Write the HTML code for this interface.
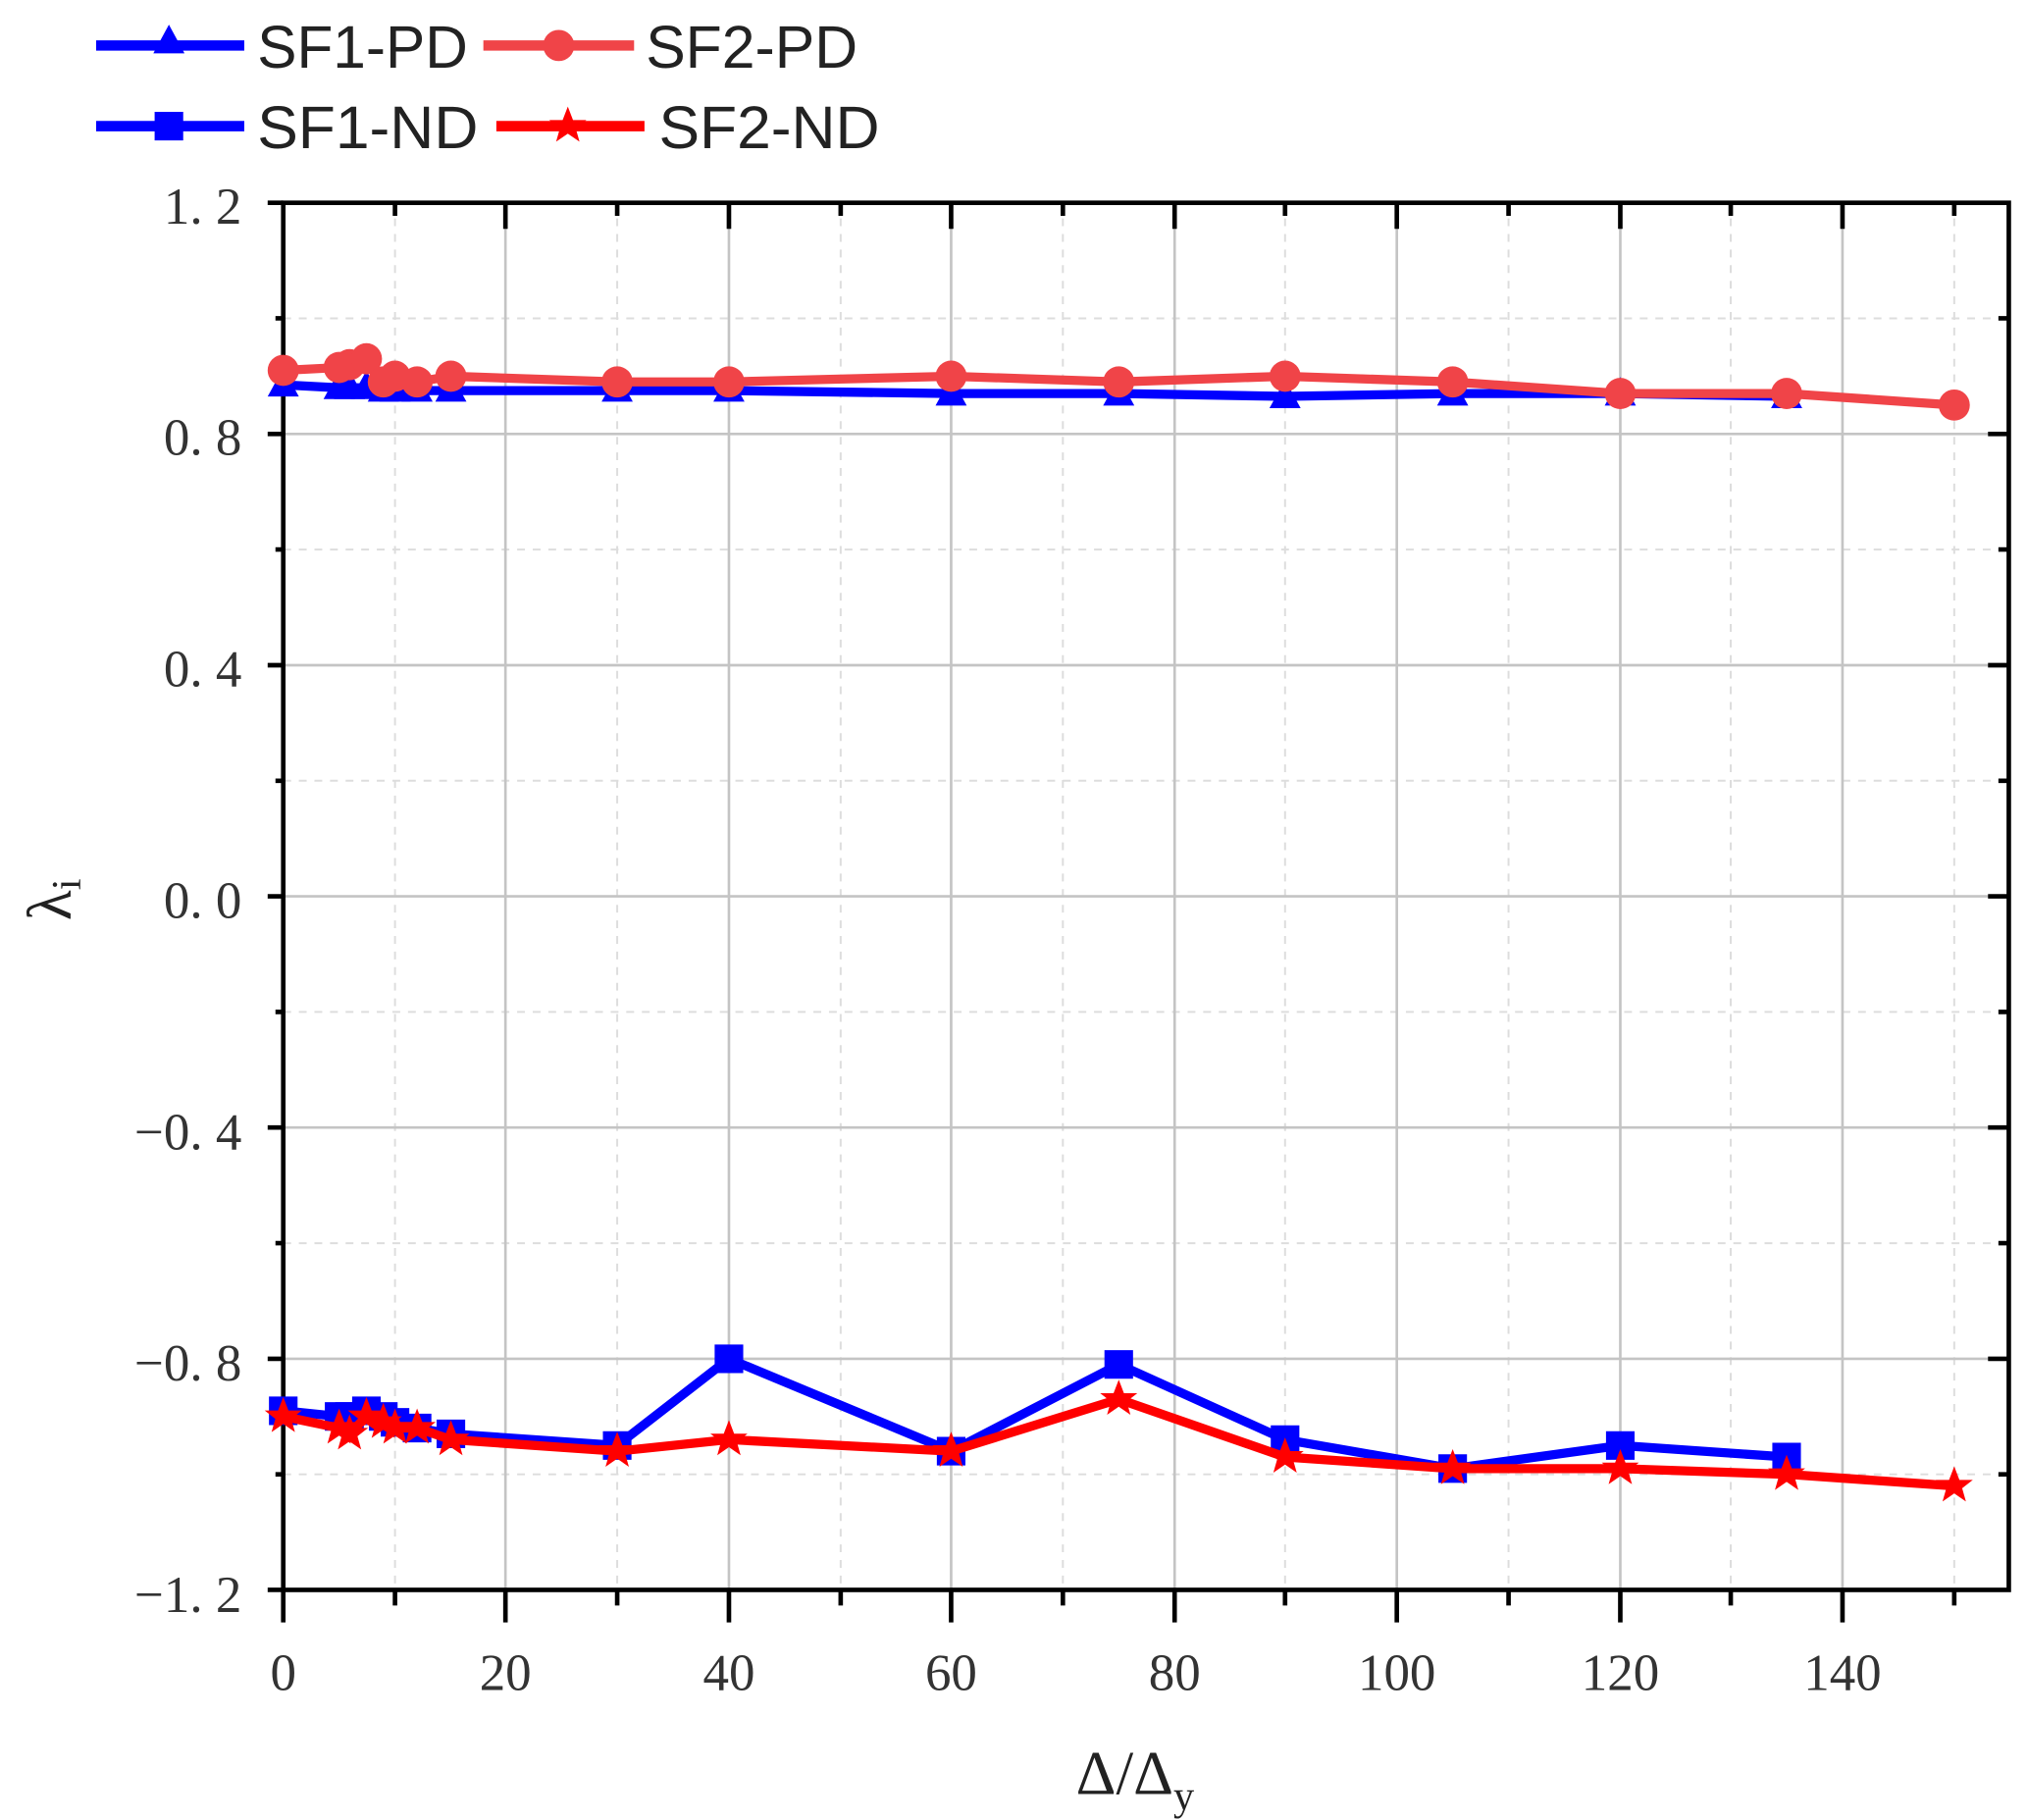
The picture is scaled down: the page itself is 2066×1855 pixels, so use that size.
<!DOCTYPE html>
<html><head><meta charset="utf-8"><style>
html,body{margin:0;padding:0;background:#fff;}
svg{display:block;}
.tl{font-family:"Liberation Serif",serif;font-size:40px;fill:#333;}
.lg{font-family:"Liberation Sans",sans-serif;font-size:46px;fill:#222;}
</style></head><body>
<svg width="2066" height="1855" viewBox="0 0 1560 1400" preserveAspectRatio="none" xmlns="http://www.w3.org/2000/svg">
<defs>
<path id="tri" d="M0,-13 L12,9 L-12,9Z"/>
<path id="sq" d="M-11,-11H11V11H-11Z"/>
<circle id="cir" r="12"/>
<path id="star" d="M0,-15 L4,-4.6 L14.3,-4.6 L6.1,1.8 L9,12 L0,5.8 L-9,12 L-6.1,1.8 L-14.3,-4.6 L-4,-4.6Z"/>
</defs>
<g stroke="#ddd" stroke-width="1.5" stroke-dasharray="6,6">
<line x1="304" y1="156" x2="304" y2="1223"/><line x1="475" y1="156" x2="475" y2="1223"/><line x1="647" y1="156" x2="647" y2="1223"/><line x1="818" y1="156" x2="818" y2="1223"/><line x1="989" y1="156" x2="989" y2="1223"/><line x1="1161" y1="156" x2="1161" y2="1223"/><line x1="1332" y1="156" x2="1332" y2="1223"/><line x1="1504" y1="156" x2="1504" y2="1223"/>
<line x1="218" y1="244.9" x2="1546" y2="244.9"/><line x1="218" y1="422.7" x2="1546" y2="422.7"/><line x1="218" y1="600.6" x2="1546" y2="600.6"/><line x1="218" y1="778.4" x2="1546" y2="778.4"/><line x1="218" y1="956.3" x2="1546" y2="956.3"/><line x1="218" y1="1134.1" x2="1546" y2="1134.1"/>
</g>
<g stroke="#c4c4c4" stroke-width="2">
<line x1="389" y1="156" x2="389" y2="1223"/><line x1="561" y1="156" x2="561" y2="1223"/><line x1="732" y1="156" x2="732" y2="1223"/><line x1="904" y1="156" x2="904" y2="1223"/><line x1="1075" y1="156" x2="1075" y2="1223"/><line x1="1247" y1="156" x2="1247" y2="1223"/><line x1="1418" y1="156" x2="1418" y2="1223"/>
<line x1="218" y1="333.8" x2="1546" y2="333.8"/><line x1="218" y1="511.7" x2="1546" y2="511.7"/><line x1="218" y1="689.5" x2="1546" y2="689.5"/><line x1="218" y1="867.3" x2="1546" y2="867.3"/><line x1="218" y1="1045.2" x2="1546" y2="1045.2"/>
</g>
<g stroke="#000" stroke-width="3.5">
<rect x="218" y="156" width="1328" height="1067" fill="none"/>
<path d="M218,1223v25M389,1223v25M561,1223v25M732,1223v25M904,1223v25M1075,1223v25M1247,1223v25M1418,1223v25M304,1223v12M475,1223v12M647,1223v12M818,1223v12M989,1223v12M1161,1223v12M1332,1223v12M1504,1223v12"/>
<path d="M389,156v20M561,156v20M732,156v20M904,156v20M1075,156v20M1247,156v20M1418,156v20M304,156v10M475,156v10M647,156v10M818,156v10M989,156v10M1161,156v10M1332,156v10M1504,156v10"/>
<path d="M218,156h-12M218,333.8h-12M218,511.7h-12M218,689.5h-12M218,867.3h-12M218,1045.2h-12M218,1223h-12M218,244.9h-6M218,422.7h-6M218,600.6h-6M218,778.4h-6M218,956.3h-6M218,1134.1h-6"/>
<path d="M1546,333.8h-16M1546,511.7h-16M1546,689.5h-16M1546,867.3h-16M1546,1045.2h-16M1546,244.9h-8M1546,422.7h-8M1546,600.6h-8M1546,778.4h-8M1546,956.3h-8M1546,1134.1h-8"/>
</g>
<g class="tl" text-anchor="end">
<text x="186" y="172">1. 2</text><text x="186" y="350">0. 8</text><text x="186" y="528">0. 4</text><text x="186" y="706">0. 0</text><text x="186" y="884">−0. 4</text><text x="186" y="1062">−0. 8</text><text x="186" y="1240">−1. 2</text>
</g>
<g class="tl" text-anchor="middle">
<text x="218" y="1300">0</text><text x="389" y="1300">20</text><text x="561" y="1300">40</text><text x="732" y="1300">60</text><text x="904" y="1300">80</text><text x="1075" y="1300">100</text><text x="1247" y="1300">120</text><text x="1418" y="1300">140</text>
</g>
<text x="828" y="1380" style="font-family:'Liberation Serif',serif;font-size:48px;fill:#222">Δ/Δ<tspan font-size="32" dy="12">y</tspan></text>
<text transform="translate(54,708) rotate(-90)" style="font-family:'Liberation Serif',serif;font-size:48px;fill:#222">λ<tspan font-size="32" dy="8">i</tspan></text>
<g fill="#0000ff">
<polyline fill="none" stroke="#0000ff" stroke-width="7" points="218,296 261,298.3 269,298.3 282,298.3 295,300.5 304,300.5 321,300.5 347,300.5 475,300.5 561,300.5 732,302.7 861,302.7 989,304.9 1118,302.7 1247,302.7 1375,304.9"/>
<use href="#tri" x="218" y="296"/><use href="#tri" x="261" y="298"/><use href="#tri" x="269" y="298"/><use href="#tri" x="282" y="298"/><use href="#tri" x="295" y="300"/><use href="#tri" x="304" y="300"/><use href="#tri" x="321" y="300"/><use href="#tri" x="347" y="300"/><use href="#tri" x="475" y="300"/><use href="#tri" x="561" y="300"/><use href="#tri" x="732" y="303"/><use href="#tri" x="861" y="303"/><use href="#tri" x="989" y="305"/><use href="#tri" x="1118" y="303"/><use href="#tri" x="1247" y="303"/><use href="#tri" x="1375" y="305"/>
</g>
<g fill="#f04448">
<polyline fill="none" stroke="#f04448" stroke-width="7" points="218,284.9 261,282.7 269,280.5 282,276 295,293.8 304,289.4 321,293.8 347,289.4 475,293.8 561,293.8 732,289.4 861,293.8 989,289.4 1118,293.8 1247,302.7 1375,302.7 1504,311.6"/>
<use href="#cir" x="218" y="284.9"/><use href="#cir" x="261" y="282.7"/><use href="#cir" x="269" y="280.5"/><use href="#cir" x="282" y="276"/><use href="#cir" x="295" y="293.8"/><use href="#cir" x="304" y="289.4"/><use href="#cir" x="321" y="293.8"/><use href="#cir" x="347" y="289.4"/><use href="#cir" x="475" y="293.8"/><use href="#cir" x="561" y="293.8"/><use href="#cir" x="732" y="289.4"/><use href="#cir" x="861" y="293.8"/><use href="#cir" x="989" y="289.4"/><use href="#cir" x="1118" y="293.8"/><use href="#cir" x="1247" y="302.7"/><use href="#cir" x="1375" y="302.7"/><use href="#cir" x="1504" y="311.6"/>
</g>
<g fill="#0000ff">
<polyline fill="none" stroke="#0000ff" stroke-width="7" points="218,1085.2 261,1089.6 269,1089.6 282,1085.2 295,1089.6 304,1094.1 321,1098.5 347,1103 475,1111.9 561,1045.2 732,1116.3 861,1049.6 989,1107.4 1118,1129.7 1247,1111.9 1375,1120.8"/>
<use href="#sq" x="218" y="1085.2"/><use href="#sq" x="261" y="1089.6"/><use href="#sq" x="269" y="1089.6"/><use href="#sq" x="282" y="1085.2"/><use href="#sq" x="295" y="1089.6"/><use href="#sq" x="304" y="1094.1"/><use href="#sq" x="321" y="1098.5"/><use href="#sq" x="347" y="1103"/><use href="#sq" x="475" y="1111.9"/><use href="#sq" x="561" y="1045.2"/><use href="#sq" x="732" y="1116.3"/><use href="#sq" x="861" y="1049.6"/><use href="#sq" x="989" y="1107.4"/><use href="#sq" x="1118" y="1129.7"/><use href="#sq" x="1247" y="1111.9"/><use href="#sq" x="1375" y="1120.8"/>
</g>
<g fill="#ff0000">
<polyline fill="none" stroke="#ff0000" stroke-width="7" points="218,1089.6 261,1098.5 269,1103 282,1089.6 295,1094.1 304,1098.5 321,1098.5 347,1107.4 475,1116.3 561,1107.4 732,1116.3 861,1076.3 989,1120.8 1118,1129.7 1247,1129.7 1375,1134.1 1504,1143"/>
<use href="#star" x="218" y="1089.6"/><use href="#star" x="261" y="1098.5"/><use href="#star" x="269" y="1103"/><use href="#star" x="282" y="1089.6"/><use href="#star" x="295" y="1094.1"/><use href="#star" x="304" y="1098.5"/><use href="#star" x="321" y="1098.5"/><use href="#star" x="347" y="1107.4"/><use href="#star" x="475" y="1116.3"/><use href="#star" x="561" y="1107.4"/><use href="#star" x="732" y="1116.3"/><use href="#star" x="861" y="1076.3"/><use href="#star" x="989" y="1120.8"/><use href="#star" x="1118" y="1129.7"/><use href="#star" x="1247" y="1129.7"/><use href="#star" x="1375" y="1134.1"/><use href="#star" x="1504" y="1143"/>
</g>
<line x1="74" y1="35" x2="188" y2="35" stroke="#0000ff" stroke-width="8"/><use href="#tri" x="130" y="32" fill="#0000ff"/>
<text class="lg" x="198" y="52" textLength="162" lengthAdjust="spacingAndGlyphs">SF1-PD</text>
<line x1="372" y1="35" x2="488" y2="35" stroke="#f04448" stroke-width="8"/><use href="#cir" x="430" y="35" fill="#f04448"/>
<text class="lg" x="497" y="52" textLength="163" lengthAdjust="spacingAndGlyphs">SF2-PD</text>
<line x1="74" y1="97" x2="188" y2="97" stroke="#0000ff" stroke-width="8"/><use href="#sq" x="130" y="97" fill="#0000ff"/>
<text class="lg" x="198" y="114" textLength="170" lengthAdjust="spacingAndGlyphs">SF1-ND</text>
<line x1="382" y1="97" x2="496" y2="97" stroke="#ff0000" stroke-width="8"/><use href="#star" x="437" y="97" fill="#ff0000"/>
<text class="lg" x="507" y="114" textLength="170" lengthAdjust="spacingAndGlyphs">SF2-ND</text>
</svg>
</body></html>
